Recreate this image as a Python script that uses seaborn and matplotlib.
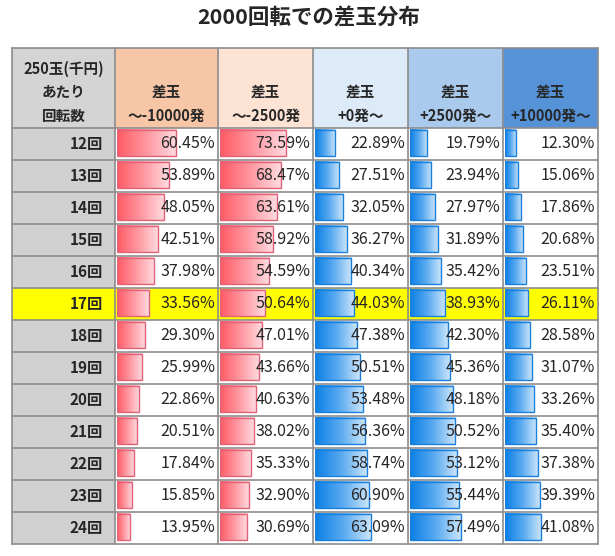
import matplotlib
matplotlib.use("Agg")
import matplotlib.pyplot as plt
from matplotlib.colors import LinearSegmentedColormap
from matplotlib.patches import Rectangle
import numpy as np
import pandas as pd
import seaborn as sns

sns.set_theme(style="white")
plt.rcParams['font.family'] = ['Noto Sans CJK JP', 'DejaVu Sans']

title = "2000回転での差玉分布"
corner_label = ["250玉(千円)", "あたり", "回転数"]
rows = ["12回", "13回", "14回", "15回", "16回", "17回", "18回",
        "19回", "20回", "21回", "22回", "23回", "24回"]
headers = [["差玉", "～-10000発"], ["差玉", "～-2500発"], ["差玉", "+0発～"],
           ["差玉", "+2500発～"], ["差玉", "+10000発～"]]
v_m10000 = [60.45, 53.89, 48.05, 42.51, 37.98, 33.56, 29.30, 25.99, 22.86, 20.51, 17.84, 15.85, 13.95]
v_m2500 = [73.59, 68.47, 63.61, 58.92, 54.59, 50.64, 47.01, 43.66, 40.63, 38.02, 35.33, 32.90, 30.69]
v_p0 = [22.89, 27.51, 32.05, 36.27, 40.34, 44.03, 47.38, 50.51, 53.48, 56.36, 58.74, 60.90, 63.09]
v_p2500 = [19.79, 23.94, 27.97, 31.89, 35.42, 38.93, 42.30, 45.36, 48.18, 50.52, 53.12, 55.44, 57.49]
v_p10000 = [12.30, 15.06, 17.86, 20.68, 23.51, 26.11, 28.58, 31.07, 33.26, 35.40, 37.38, 39.39, 41.08]
highlight_row = "17回"

series = [v_m10000, v_m2500, v_p0, v_p2500, v_p10000]

# layout in pixels
W, H = 615, 556
col_edges = [12, 115, 218, 313, 408, 503, 598]
top, head_h, row_h = 48, 80, 32
head_colors = ["#D4D4D4", "#F6C6A7", "#FCE3D4", "#DDEAF7", "#A9CAEC", "#5592D8"]
gray = "#D0D0D0"
yellow = "#FFFF00"
line_c = "#8C8C8C"
red_cmap = LinearSegmentedColormap.from_list("r", ["#FF5A64", "#FF98A1", "#FFDDE1"])
blue_cmap = LinearSegmentedColormap.from_list("b", ["#0A7FE6", "#5AAAF0", "#CFE7FB"])
bar_edges = ["#E0637A", "#E0637A", "#1A80DC", "#1A80DC", "#1A80DC"]

fig = plt.figure(figsize=(W / 100, H / 100), dpi=100)
bg = fig.add_axes([0, 0, 1, 1])
bg.set_xlim(0, W)
bg.set_ylim(H, 0)
bg.axis("off")

n = len(rows)
body_top = top + head_h
bottom = body_top + n * row_h

# cell fills
for j in range(6):
    bg.add_patch(Rectangle((col_edges[j], top), col_edges[j + 1] - col_edges[j], head_h,
                           facecolor=head_colors[j], edgecolor="none"))
for i, r in enumerate(rows):
    y0 = body_top + i * row_h
    for j in range(6):
        if r == highlight_row:
            fc = yellow
        elif j == 0:
            fc = gray
        else:
            fc = "white"
        bg.add_patch(Rectangle((col_edges[j], y0), col_edges[j + 1] - col_edges[j], row_h,
                               facecolor=fc, edgecolor="none"))

# data bars, one axes per column, drawn with seaborn
for j, vals in enumerate(series):
    left = col_edges[j + 1] + 1.5
    span = col_edges[j + 2] - col_edges[j + 1] - 5  # px for 100%
    bax = fig.add_axes([left / W, (H - bottom) / H, span / W, n * row_h / H])
    df = pd.DataFrame({"row": rows, "value": vals})
    sns.barplot(data=df, x="value", y="row", orient="h", width=0.84, ax=bax,
                color="white", edgecolor="none")
    cmap = red_cmap if j < 2 else blue_cmap
    grad = np.linspace(0, 1, 256).reshape(1, -1)
    for p in list(bax.patches):
        x, y, w, h = p.get_x(), p.get_y(), p.get_width(), p.get_height()
        y = y - 0.03
        bax.imshow(grad, cmap=cmap, extent=[x, x + w, y + h, y], aspect="auto", zorder=2)
        bax.add_patch(Rectangle((x, y), w, h, facecolor="none", edgecolor=bar_edges[j],
                                linewidth=1.0, zorder=3))
        p.set_visible(False)
    bax.set_xlim(0, 100)
    bax.set_ylim(n - 0.5, -0.5)
    bax.axis("off")
    bax.patch.set_alpha(0)

# text and grid lines on top
fg = fig.add_axes([0, 0, 1, 1])
fg.set_xlim(0, W)
fg.set_ylim(H, 0)
fg.axis("off")
fg.patch.set_alpha(0)

for x in col_edges:
    fg.plot([x, x], [top, bottom], color=line_c, lw=1.2)
fg.plot([col_edges[0], col_edges[-1]], [top, top], color=line_c, lw=1.2)
for i in range(n + 1):
    y = body_top + i * row_h
    fg.plot([col_edges[0], col_edges[-1]], [y, y], color=line_c, lw=1.2)

fg.text(W / 2 + 1, 18, title, ha="center", va="center", fontsize=15.5, fontweight="bold")

line_y = [69, 92, 116]
cx0 = (col_edges[0] + col_edges[1]) / 2
for k, t in enumerate(corner_label):
    fg.text(cx0, line_y[k], t, ha="center", va="center", fontsize=10.5, fontweight="bold")
for j, hd in enumerate(headers):
    cx = (col_edges[j + 1] + col_edges[j + 2]) / 2
    for k, t in enumerate(hd):
        fg.text(cx, line_y[k + 1], t, ha="center", va="center", fontsize=10.5, fontweight="bold")

for i, r in enumerate(rows):
    yc = body_top + i * row_h + row_h / 2
    fg.text(col_edges[1] - 12, yc, r, ha="right", va="center", fontsize=11, fontweight="bold")
    for j, vals in enumerate(series):
        fg.text(col_edges[j + 2] - 3, yc, f"{vals[i]:.2f}%", ha="right", va="center", fontsize=11.5)

fig.savefig("out.png", dpi=100)
